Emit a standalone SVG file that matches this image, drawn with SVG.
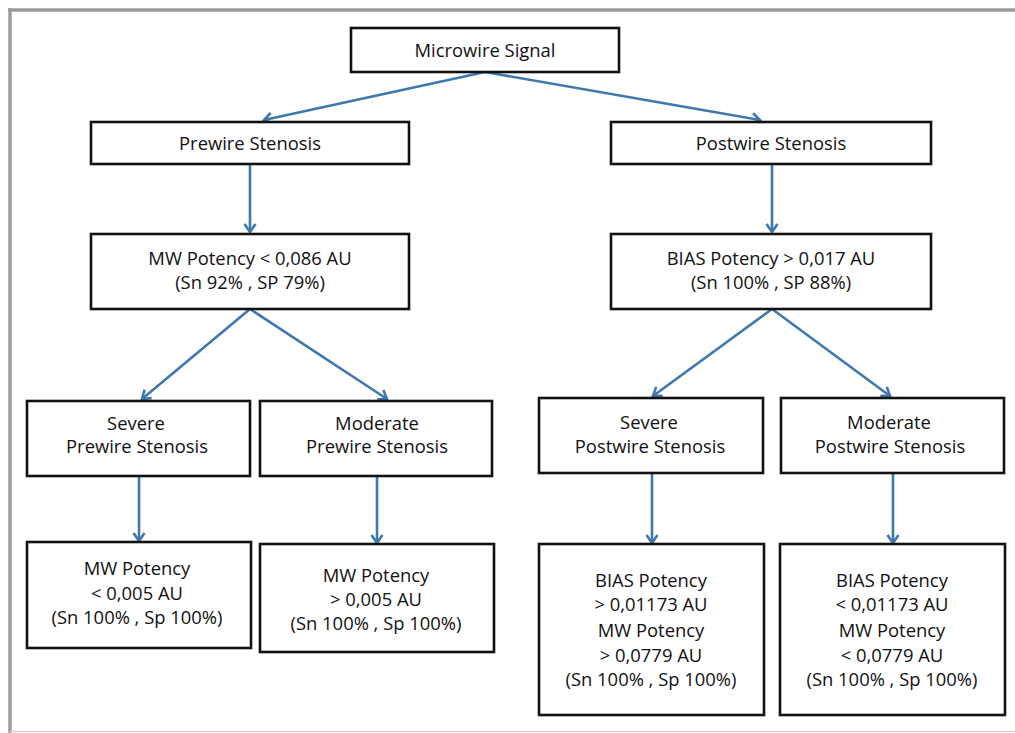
<svg xmlns="http://www.w3.org/2000/svg" width="1015" height="733" viewBox="0 0 1015 733">
<defs>
<style>
.box{fill:#fff;stroke:#111;stroke-width:2.6}
.t{font-family:"Open Sans","Noto Sans","DejaVu Sans",sans-serif;font-size:18.4px;fill:#111;text-anchor:middle}
.c{stroke:#3f78ad;stroke-width:2.6;fill:none;marker-end:url(#ah)}
</style>
<marker id="ah" markerUnits="userSpaceOnUse" viewBox="-12 -8 14 16" refX="0" refY="0" markerWidth="14" markerHeight="16" orient="auto">
<path d="M-8,-5.5 L0,0 L-8,5.5" fill="none" stroke="#3f78ad" stroke-width="2.6"/>
</marker>
</defs>
<rect width="1015" height="733" fill="#fff"/>
<g id="frame">
<line x1="8" y1="10" x2="1015" y2="10" stroke="#9a9a9b" stroke-width="3.4"/>
<line x1="10" y1="8.5" x2="10" y2="733" stroke="#9a9a9b" stroke-width="3.4"/>
<line x1="10" y1="731.5" x2="1015" y2="731.5" stroke="#d2d2d2" stroke-width="1.5"/>
</g>
<g id="connectors">
<line class="c" x1="485" y1="72" x2="264" y2="120"/>
<line class="c" x1="485" y1="72" x2="760" y2="120"/>
<line class="c" x1="250" y1="164" x2="250" y2="232"/>
<line class="c" x1="772" y1="164" x2="772" y2="232"/>
<line class="c" x1="250" y1="309" x2="142" y2="399"/>
<line class="c" x1="250" y1="309" x2="387" y2="399"/>
<line class="c" x1="772" y1="309" x2="653" y2="396"/>
<line class="c" x1="772" y1="309" x2="890" y2="396"/>
<line class="c" x1="139" y1="476" x2="139" y2="541"/>
<line class="c" x1="377" y1="476" x2="377" y2="543"/>
<line class="c" x1="652" y1="473" x2="652" y2="543"/>
<line class="c" x1="893" y1="473" x2="893" y2="543"/>
</g>
<g id="n-microwire"><rect class="box" x="351" y="28" width="268" height="44"/><text class="t" x="485" y="57">Microwire Signal</text></g>
<g id="n-prewire"><rect class="box" x="91" y="122" width="318" height="42"/><text class="t" x="250" y="150">Prewire Stenosis</text></g>
<g id="n-postwire"><rect class="box" x="611" y="122" width="320" height="42"/><text class="t" x="771" y="150">Postwire Stenosis</text></g>
<g id="n-mw086"><rect class="box" x="91" y="234" width="318" height="75"/><text class="t" x="250" y="265">MW Potency &lt; 0,086 AU</text><text class="t" x="250" y="289">(Sn 92% , SP 79%)</text></g>
<g id="n-bias017"><rect class="box" x="611" y="234" width="320" height="75"/><text class="t" x="771" y="265">BIAS Potency &gt; 0,017 AU</text><text class="t" x="771" y="289">(Sn 100% , SP 88%)</text></g>
<g id="n-sev-pre"><rect class="box" x="27" y="401" width="223" height="75"/><text class="t" x="136" y="430">Severe</text><text class="t" x="137" y="453">Prewire Stenosis</text></g>
<g id="n-mod-pre"><rect class="box" x="260" y="401" width="232" height="75"/><text class="t" x="377" y="430">Moderate</text><text class="t" x="377" y="453">Prewire Stenosis</text></g>
<g id="n-sev-post"><rect class="box" x="539" y="398" width="224" height="75"/><text class="t" x="649" y="429">Severe</text><text class="t" x="650" y="453">Postwire Stenosis</text></g>
<g id="n-mod-post"><rect class="box" x="781" y="398" width="223" height="75"/><text class="t" x="889" y="429">Moderate</text><text class="t" x="890" y="453">Postwire Stenosis</text></g>
<g id="n-mw-lt"><rect class="box" x="27" y="542" width="224" height="106"/><text class="t" x="137" y="575">MW Potency</text><text class="t" x="137" y="600">&lt; 0,005 AU</text><text class="t" x="137" y="624">(Sn 100% , Sp 100%)</text></g>
<g id="n-mw-gt"><rect class="box" x="260" y="544" width="234" height="108"/><text class="t" x="376" y="582">MW Potency</text><text class="t" x="376" y="606">&gt; 0,005 AU</text><text class="t" x="376" y="630">(Sn 100% , Sp 100%)</text></g>
<g id="n-bias-gt"><rect class="box" x="539" y="544" width="225" height="171"/><text class="t" x="651" y="587">BIAS Potency</text><text class="t" x="651" y="611">&gt; 0,01173 AU</text><text class="t" x="651" y="637">MW Potency</text><text class="t" x="651" y="662">&gt; 0,0779 AU</text><text class="t" x="651" y="686">(Sn 100% , Sp 100%)</text></g>
<g id="n-bias-lt"><rect class="box" x="780" y="544" width="225" height="171"/><text class="t" x="892" y="587">BIAS Potency</text><text class="t" x="892" y="611">&lt; 0,01173 AU</text><text class="t" x="892" y="637">MW Potency</text><text class="t" x="892" y="662">&lt; 0,0779 AU</text><text class="t" x="892" y="686">(Sn 100% , Sp 100%)</text></g>
</svg>
